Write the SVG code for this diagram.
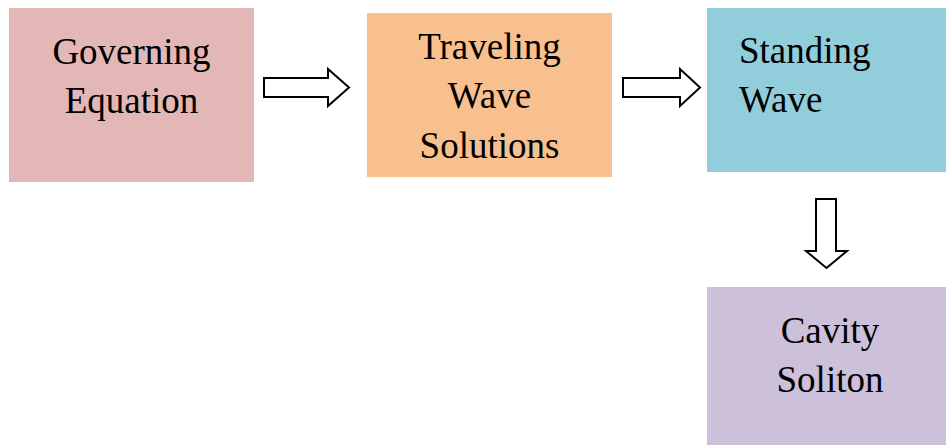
<svg xmlns="http://www.w3.org/2000/svg" width="946" height="445" viewBox="0 0 946 445">
<style>
text{font-family:"Liberation Serif","Times New Roman",serif;font-size:37px;fill:#000}
.c{text-anchor:middle}
.arr{fill:#fff;stroke:#000;stroke-width:2;stroke-linejoin:miter}
</style>
<rect width="946" height="445" fill="#fff"/>
<g id="governing">
<rect x="9" y="8" width="245" height="174" fill="#E4B7B7"/>
<text class="c" x="131.5" y="64">Governing</text>
<text class="c" x="131.5" y="113">Equation</text>
</g>
<g id="traveling">
<rect x="367" y="13" width="245" height="164" fill="#F9C08F"/>
<text class="c" x="489.5" y="59">Traveling</text>
<text class="c" x="489.5" y="108">Wave</text>
<text class="c" x="489.5" y="158">Solutions</text>
</g>
<g id="standing">
<rect x="707" y="8" width="239" height="164" fill="#92CDDC"/>
<text x="739" y="63">Standing</text>
<text x="739" y="112">Wave</text>
</g>
<g id="cavity">
<rect x="707" y="287" width="239" height="158" fill="#CCC0DA"/>
<text class="c" x="830" y="343">Cavity</text>
<text class="c" x="830" y="392">Soliton</text>
</g>
<g id="connectors">
<polygon class="arr" points="264,78 328,78 328,69 349,87.5 328,106 328,97 264,97"/>
<polygon class="arr" points="623,78 680,78 680,69 700,87.5 680,106 680,97 623,97"/>
<polygon class="arr" points="816,199 836,199 836,251 847,251 826.5,268 806,251 816,251"/>
</g>
</svg>
